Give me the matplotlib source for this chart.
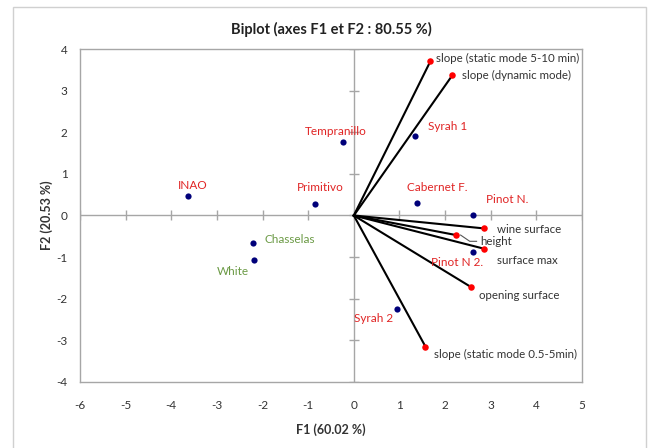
import matplotlib
matplotlib.use("Agg")
import matplotlib.pyplot as plt
from matplotlib.patches import Rectangle

plt.rcParams['font.family'] = ['Lato', 'DejaVu Sans']
plt.rcParams['axes.unicode_minus'] = False

# Observations
obs_names = ["INAO", "Primitivo", "Tempranillo", "Syrah 1", "Cabernet F.",
             "Pinot N.", "Pinot N 2.", "Syrah 2", "Chasselas", "White"]
obs_x = [-3.64, -0.86, -0.23, 1.34, 1.38, 2.62, 2.62, 0.94, -2.21, -2.18]
obs_y = [0.48, 0.28, 1.76, 1.92, 0.31, 0.02, -0.87, -2.25, -0.65, -1.07]
obs_group = ["red", "red", "red", "red", "red", "red", "red", "red", "white", "white"]

# Variables
var_names = ["slope (static mode 5-10 min)", "slope (dynamic mode)", "wine surface",
             "height", "surface max", "opening surface", "slope (static mode 0.5-5min)"]
var_x = [1.68, 2.16, 2.85, 2.24, 2.86, 2.57, 1.57]
var_y = [3.71, 3.37, -0.31, -0.47, -0.80, -1.72, -3.15]

x_ticks = list(range(-6, 6))
y_ticks = list(range(-4, 5))

title = "Biplot (axes F1 et F2 : 80.55 %)"
xlabel = "F1 (60.02 %)"
ylabel = "F2 (20.53 %)"

W, H = 651, 448
fig = plt.figure(figsize=(W / 100, H / 100), dpi=100)
fig.patch.set_facecolor("white")

# outer chart border
fig.patches.append(Rectangle((13 / W, -0.1), (646 - 13) / W, 1.1 - 7 / H,
                             transform=fig.transFigure, fill=False,
                             edgecolor="#D0D0D0", linewidth=1.0))

L, R, T, B = 80, 582, 49, 382
ax = fig.add_axes([L / W, 1 - B / H, (R - L) / W, (B - T) / H])
ax.set_xlim(-6, 5)
ax.set_ylim(-4, 4)
for s in ax.spines.values():
    s.set_color("#A6A6A6")
    s.set_linewidth(1.0)

ax.set_xticks(x_ticks)
ax.set_yticks(y_ticks)
ax.tick_params(length=0, labelsize=8.5, colors="#333333", pad=13)
ax.tick_params(axis="y", pad=9)

# zero axes with crossing ticks
ax.axhline(0, color="#A6A6A6", lw=1.0, zorder=1)
ax.axvline(0, color="#A6A6A6", lw=1.0, zorder=1)
ax.plot(x_ticks, [0] * len(x_ticks), linestyle="none", marker="|",
        markersize=7, color="#A6A6A6", mew=1.0, zorder=1)
ax.plot([0] * len(y_ticks), y_ticks, linestyle="none", marker="_",
        markersize=7, color="#A6A6A6", mew=1.0, zorder=1)

# variable vectors
for vx, vy in zip(var_x, var_y):
    ax.plot([0, vx], [0, vy], color="black", lw=1.5, zorder=2)
ax.scatter(var_x, var_y, s=22, color="#FF0000", zorder=3, linewidths=0)

# observations
ax.scatter(obs_x, obs_y, s=20, color="#00007A", zorder=3, linewidths=0)

red_c = "#E02424"
green_c = "#6B9A45"
var_c = "#333333"

obs_off = {
    "INAO": (0.12, 0.25, "center"),
    "Primitivo": (0.13, 0.40, "center"),
    "Tempranillo": (-0.17, 0.27, "center"),
    "Syrah 1": (0.71, 0.23, "center"),
    "Cabernet F.": (0.44, 0.37, "center"),
    "Pinot N.": (0.73, 0.37, "center"),
    "Pinot N 2.": (-0.36, -0.25, "center"),
    "Syrah 2": (-0.51, -0.23, "center"),
    "Chasselas": (0.80, 0.07, "center"),
    "White": (-0.48, -0.27, "center"),
}
for n, x, y, g in zip(obs_names, obs_x, obs_y, obs_group):
    dx, dy, ha = obs_off[n]
    ax.text(x + dx, y + dy, n, color=red_c if g == "red" else green_c,
            fontsize=8.5, ha=ha, va="center", zorder=4)

var_off = {
    "slope (static mode 5-10 min)": (0.13, 0.06),
    "slope (dynamic mode)": (0.21, 0.00),
    "wine surface": (0.29, -0.02),
    "height": (0.53, -0.15),
    "surface max": (0.28, -0.28),
    "opening surface": (0.17, -0.21),
    "slope (static mode 0.5-5min)": (0.18, -0.20),
}
for n, x, y in zip(var_names, var_x, var_y):
    dx, dy = var_off[n]
    ax.text(x + dx, y + dy, n, color=var_c, fontsize=8.3, ha="left",
            va="center", zorder=4)
    if n == "height":
        ax.plot([x + 0.10, x + 0.30, x + 0.45], [y, y - 0.15, y - 0.15],
                color="#555555", lw=0.8, zorder=2)

ax.set_xlabel(xlabel, fontsize=9, fontweight="bold", color="#333333", labelpad=9)
ax.set_ylabel(ylabel, fontsize=9, fontweight="bold", color="#333333", labelpad=2)
fig.text(331 / W, 1 - 29 / H, title, fontsize=10.5, fontweight="bold",
         color="#222222", ha="center", va="center")

fig.savefig("out.png", dpi=100, facecolor="white")
